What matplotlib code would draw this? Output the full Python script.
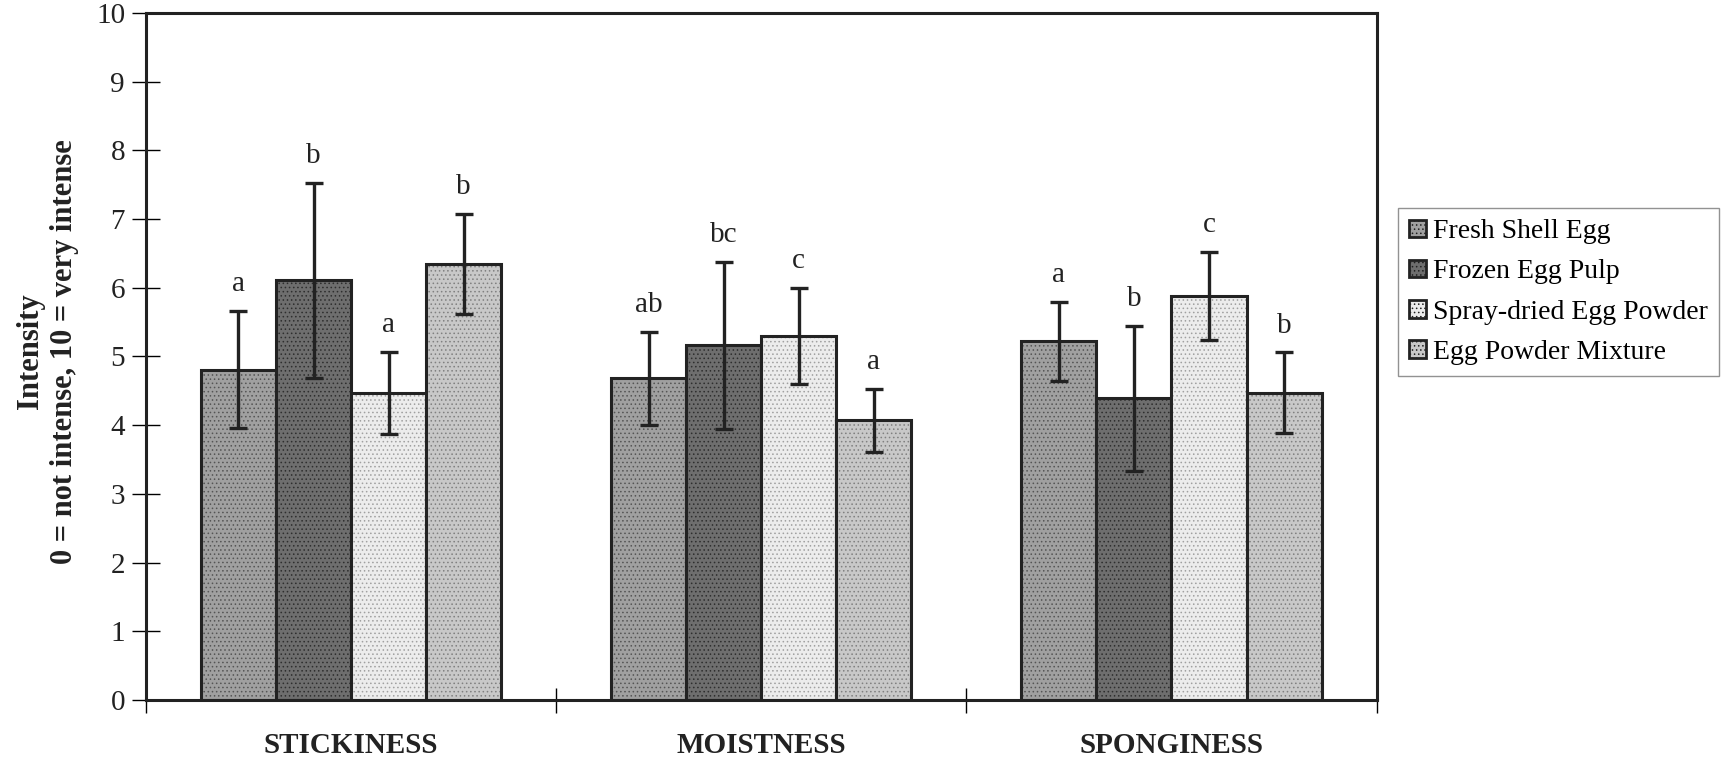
import matplotlib
matplotlib.use("Agg")
import matplotlib.pyplot as plt
import numpy as np
from matplotlib.patches import Patch

categories = ["STICKINESS", "MOISTNESS", "SPONGINESS"]
series = ["Fresh Shell Egg", "Frozen Egg Pulp", "Spray-dried Egg Powder", "Egg Powder Mixture"]
fresh = [4.81, 4.68, 5.22]
frozen = [6.11, 5.16, 4.39]
spray = [4.47, 5.30, 5.88]
mixture = [6.35, 4.07, 4.47]
fresh_err = [0.85, 0.68, 0.58]
frozen_err = [1.42, 1.22, 1.06]
spray_err = [0.60, 0.70, 0.64]
mixture_err = [0.73, 0.46, 0.59]
fresh_lbl = ["a", "ab", "a"]
frozen_lbl = ["b", "bc", "b"]
spray_lbl = ["a", "c", "c"]
mixture_lbl = ["b", "a", "b"]
yticks = list(range(0, 11))

values = [fresh, frozen, spray, mixture]
errs = [fresh_err, frozen_err, spray_err, mixture_err]
lbls = [fresh_lbl, frozen_lbl, spray_lbl, mixture_lbl]
faces = ["#a0a0a0", "#6e6e6e", "#ececec", "#c8c8c8"]
hatchcols = ["#555555", "#2e2e2e", "#a0a0a0", "#808080"]

plt.rcParams['font.family'] = ['Liberation Serif', 'DejaVu Serif']
plt.rcParams['hatch.linewidth'] = 0.6

fig = plt.figure(figsize=(17.25, 7.64), dpi=100)
ax = fig.add_axes([0.0846, 0.0838, 0.798 - 0.0846, 0.983 - 0.0838])

x = np.arange(len(categories))
w = 0.183
for i in range(4):
    pos = x + (i - 1.5) * w
    bars = ax.bar(pos, values[i], width=w, color=faces[i], edgecolor="#222222",
                  linewidth=2.2, hatch="....", zorder=2)
    for b in bars:
        b._hatch_color = matplotlib.colors.to_rgba(hatchcols[i])
    ax.errorbar(pos, values[i], yerr=errs[i], fmt="none", ecolor="#222222",
                elinewidth=2.4, capsize=6.5, capthick=2.4, zorder=3)
    for p, v, e, t in zip(pos, values[i], errs[i], lbls[i]):
        ax.text(p, v + e + 0.2, t, ha="center", va="bottom", fontsize=21, color="#222222")

ax.set_xlim(-0.5, 2.5)
ax.set_ylim(0, 10)
ax.set_yticks(yticks)
ax.set_yticklabels([str(t) for t in yticks], fontsize=21, color="#222222")
ax.tick_params(axis="y", direction="inout", length=20, width=1.0, pad=5)
ax.set_xticks([-0.5, 0.5, 1.5, 2.5])
ax.set_xticklabels([])
ax.tick_params(axis="x", direction="inout", length=18, width=1.0)
for xi, c in zip(x, categories):
    ax.text(xi, -0.47, c, ha="center", va="top", fontsize=21, fontweight="bold",
            color="#222222", transform=ax.transData)
for s in ax.spines.values():
    s.set_linewidth(2.2)
    s.set_color("#222222")

fig.text(0.0175, 0.54, "Intensity", rotation=90, ha="center", va="center",
         fontsize=22, fontweight="bold", color="#222222")
fig.text(0.0375, 0.54, "0 = not intense, 10 = very intense", rotation=90, ha="center",
         va="center", fontsize=22, fontweight="bold", color="#222222")

handles = [Patch(facecolor=faces[i], edgecolor="#222222", hatch="....", linewidth=2.0,
                 label=series[i]) for i in range(4)]
leg = fig.legend(handles=handles, loc="upper left", bbox_to_anchor=(0.8104, 0.7277),
                 fontsize=20, frameon=True, fancybox=False, handlelength=0.6,
                 handleheight=0.6, handletextpad=0.25, labelspacing=0.55,
                 borderpad=0.4, borderaxespad=0)
leg.get_frame().set_edgecolor("#777777")
leg.get_frame().set_linewidth(1.0)

fig.savefig("out.png", dpi=100)
